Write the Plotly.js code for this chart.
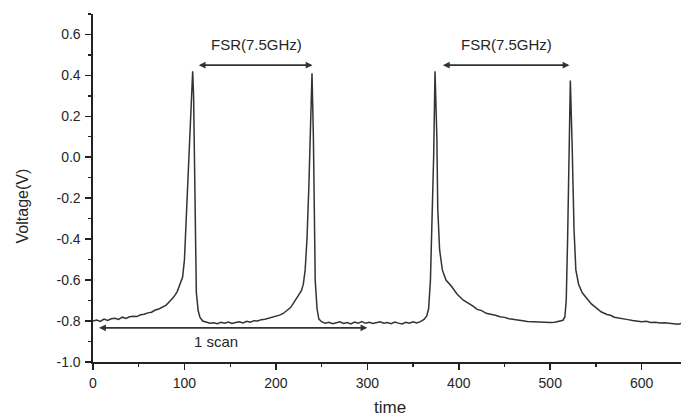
<!DOCTYPE html>
<html>
<head>
<meta charset="utf-8">
<script src="https://cdn.plot.ly/plotly-3.0.1.min.js"></script>
<style>html,body{margin:0;padding:0;background:#fff;}#chart{width:681px;height:419px;}</style>
</head>
<body>
<div id="chart"></div>
<script>
// time axis samples
const time = [
  0,4,8,12,16,20,24,28,32,36,40,44,48,52,56,60,64,68,72,76,80,84,88,92,95,98,100,102,104,106,108,109,110,111,112,113,115,117,120,124,128,
  132,136,140,144,148,152,156,160,164,168,172,176,180,184,188,192,196,200,204,208,212,216,219,222,225,228,230,232,234,236,238,239.5,241,242,243,245,247,250,
  254,258,262,266,270,274,278,282,286,290,294,298,302,306,310,314,318,322,326,330,334,338,342,346,350,354,358,362,365,367,369,371,372.5,374,376,377,379,382,
  386,392,398,405,412,416,420,425,430,435,440,445,450,455,460,465,470,475,480,485,490,495,500,505,510,514,516,517.5,519,520.5,522,524,526,528,531,535,
  540,545,550,556,562,566,570,575,580,585,590,595,600,605,610,615,620,625,630,635,640,643
];
// measured voltage (V)
const voltage = [
  -0.800,-0.795,-0.802,-0.790,-0.797,-0.789,-0.786,-0.792,-0.781,-0.787,-0.779,-0.776,-0.778,-0.769,-0.767,-0.760,-0.757,-0.746,-0.741,-0.732,-0.722,-0.703,-0.684,-0.657,-0.625,-0.585,-0.500,-0.300,-0.100,0.120,0.350,0.420,0.300,-0.100,-0.450,-0.660,-0.750,-0.782,-0.800,-0.806,-0.811,
  -0.808,-0.813,-0.806,-0.811,-0.805,-0.812,-0.807,-0.803,-0.809,-0.801,-0.806,-0.798,-0.800,-0.793,-0.791,-0.786,-0.783,-0.776,-0.771,-0.763,-0.749,-0.734,-0.714,-0.695,-0.672,-0.650,-0.620,-0.550,-0.400,-0.150,0.150,0.410,0.100,-0.300,-0.600,-0.740,-0.790,-0.803,
  -0.811,-0.806,-0.813,-0.808,-0.804,-0.812,-0.807,-0.814,-0.805,-0.810,-0.803,-0.811,-0.806,-0.812,-0.808,-0.804,-0.811,-0.807,-0.813,-0.805,-0.810,-0.814,-0.806,-0.811,-0.804,-0.809,-0.803,-0.792,-0.775,-0.740,-0.600,-0.300,0.000,0.420,0.100,-0.250,-0.450,-0.550,
  -0.600,-0.630,-0.668,-0.698,-0.716,-0.728,-0.743,-0.749,-0.762,-0.766,-0.772,-0.779,-0.782,-0.789,-0.791,-0.796,-0.798,-0.802,-0.803,-0.807,-0.805,-0.809,-0.807,-0.806,-0.802,-0.796,-0.780,-0.700,-0.400,0.000,0.375,0.050,-0.350,-0.550,-0.620,-0.662,
  -0.690,-0.716,-0.734,-0.756,-0.768,-0.772,-0.781,-0.784,-0.790,-0.793,-0.797,-0.799,-0.803,-0.801,-0.807,-0.806,-0.810,-0.808,-0.811,-0.813,-0.815,-0.812
];

const yTickVals = [-1.0,-0.8,-0.6,-0.4,-0.2,0.0,0.2,0.4,0.6];
const yTickText = ["-1.0","-0.8","-0.6","-0.4","-0.2","0.0","0.2","0.4","0.6"];
const xTickVals = [0,100,200,300,400,500,600];
const xTickText = ["0","100","200","300","400","500","600"];

const fsrLabel = "FSR(7.5GHz)";
const fsr1 = [114, 240];
const fsr2 = [381, 521];
const scanRange = [5, 300];
const scanLabel = "1 scan";
const xTitle = "time";
const yTitle = "Voltage(V)";

const font = "Liberation Sans, Arial, Helvetica, sans-serif";
const ink = "#262626";

const trace = {
  x: time, y: voltage, type: "scatter", mode: "lines",
  line: {color: "#333", width: 1.5}, hoverinfo: "skip"
};

function dblArrow(x0, x1, y) {
  return {x: x1, y: y, ax: x0, ay: y, xref: "x", yref: "y", axref: "x", ayref: "y",
    text: "", showarrow: true, arrowhead: 2, arrowside: "end+start",
    arrowsize: 0.8, arrowwidth: 1.7, arrowcolor: "#333"};
}

const layout = {
  width: 681, height: 419,
  margin: {l: 93, r: 0, t: 14, b: 57},
  paper_bgcolor: "#fff", plot_bgcolor: "#fff",
  showlegend: false,
  font: {family: font, color: ink, size: 12},
  xaxis: {
    range: [0, 643], showgrid: false, zeroline: false,
    showline: true, linecolor: "#222", linewidth: 1.6,
    ticks: "outside", ticklen: 6, tickwidth: 1.6, tickcolor: "#222",
    tickvals: xTickVals, ticktext: xTickText, ticklabelstandoff: 2,
    tickfont: {size: 14, family: font, color: ink},
    minor: {dtick: 50, tick0: 0, ticks: "outside", ticklen: 3, tickwidth: 1.3, tickcolor: "#222"}
  },
  yaxis: {
    range: [-1.0, 0.7], showgrid: false, zeroline: false,
    showline: true, linecolor: "#222", linewidth: 1.6,
    ticks: "outside", ticklen: 6, tickwidth: 1.6, tickcolor: "#222",
    tickvals: yTickVals, ticktext: yTickText, ticklabelstandoff: 2,
    tickfont: {size: 14, family: font, color: ink},
    minor: {dtick: 0.1, tick0: 0, ticks: "outside", ticklen: 3, tickwidth: 1.3, tickcolor: "#222"}
  },
  annotations: [
    dblArrow(fsr1[0], fsr1[1], 0.45),
    dblArrow(fsr2[0], fsr2[1], 0.45),
    dblArrow(scanRange[0], scanRange[1], -0.833),
    {x: 179, y: 0.55, xref: "x", yref: "y", text: fsrLabel, showarrow: false,
     font: {size: 15, family: font, color: ink}},
    {x: 452, y: 0.55, xref: "x", yref: "y", text: fsrLabel, showarrow: false,
     font: {size: 15, family: font, color: ink}},
    {x: 135, y: -0.9, xref: "x", yref: "y", text: scanLabel, showarrow: false,
     font: {size: 15, family: font, color: ink}},
    {x: 0.505, y: -0.132, xref: "paper", yref: "paper", xanchor: "center", yanchor: "middle",
     text: xTitle, showarrow: false, font: {size: 17, family: font, color: ink}},
    {x: -0.1207, y: -0.24, xref: "paper", yref: "y", xanchor: "center", yanchor: "middle",
     text: yTitle, textangle: -90, showarrow: false, font: {size: 16, family: font, color: ink}}
  ]
};

Plotly.newPlot("chart", [trace], layout, {displayModeBar: false, staticPlot: true});
</script>
</body>
</html>
